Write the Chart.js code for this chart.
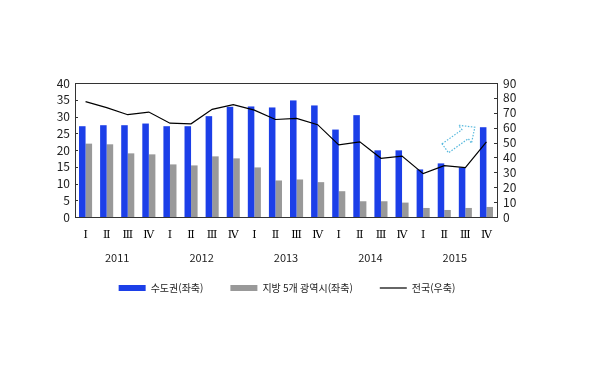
<!DOCTYPE html>
<html lang="ko">
<head>
<meta charset="UTF-8">
<title>수도권 · 지방 5개 광역시 · 전국</title>
<script src="https://cdn.jsdelivr.net/npm/chart.js"></script>
<style>
  html, body { margin: 0; padding: 0; background: #fff; }
  #wrap { width: 605px; height: 376px; }
</style>
</head>
<body>
<div id="wrap"><canvas id="chart"></canvas></div>
<script>
// 분기 / 연도 라벨
const quarterNames = ['Ⅰ', 'Ⅱ', 'Ⅲ', 'Ⅳ'];
const years = ['2011', '2012', '2013', '2014', '2015'];

// 수도권(좌축)
const metroValues = [27.1, 27.4, 27.4, 27.9, 27.1, 27.1, 30.1, 32.9, 33.0, 32.7,
                     34.8, 33.3, 26.1, 30.4, 19.9, 19.9, 14.2, 16.0, 14.8, 26.8];
// 지방 5개 광역시(좌축)
const localValues = [21.9, 21.7, 19.0, 18.7, 15.7, 15.4, 18.1, 17.5, 14.8, 10.9,
                     11.2, 10.4, 7.7, 4.7, 4.7, 4.3, 2.7, 2.1, 2.7, 3.0];
// 전국(우축)
const nationValues = [77.5, 73.5, 68.7, 70.5, 63.0, 62.6, 72.3, 75.4, 71.8, 65.5,
                      66.2, 62.0, 48.4, 50.5, 39.4, 40.9, 29.1, 34.5, 33.1, 50.5];

const leftMax = 40, leftStep = 5;
const rightMax = 90, rightStep = 10;

const labels = [];
years.forEach(() => quarterNames.forEach(q => labels.push(q)));

const baseFont = "'Noto Sans CJK KR', 'Noto Sans', sans-serif";
const axisColor = '#333';

// 플롯 테두리 + 안쪽 눈금
const framePlugin = {
  id: 'frame',
  afterLayout(chart) {
    // 범례를 연도 라벨 바로 아래로 올림
    chart.legend.top -= 11;
    chart.legend.bottom -= 11;
  },
  afterDraw(chart) {
    const { ctx, chartArea: a, scales } = chart;
    ctx.save();
    ctx.strokeStyle = axisColor;
    ctx.lineWidth = 1;
    ctx.strokeRect(Math.round(a.left) + 0.5, Math.round(a.top) + 0.5,
                   Math.round(a.right - a.left), Math.round(a.bottom - a.top));
    ctx.beginPath();
    scales.y.ticks.forEach(t => {
      const py = Math.round(scales.y.getPixelForValue(t.value)) + 0.5;
      ctx.moveTo(a.left, py); ctx.lineTo(a.left + 3, py);
    });
    scales.y1.ticks.forEach(t => {
      const py = Math.round(scales.y1.getPixelForValue(t.value)) + 0.5;
      ctx.moveTo(a.right, py); ctx.lineTo(a.right - 3, py);
    });
    ctx.stroke();
    ctx.restore();
  }
};

// 점선 화살표 (상승 표시)
const arrowPlugin = {
  id: 'arrow',
  afterDatasetsDraw(chart) {
    const { ctx, scales } = chart;
    const x0 = scales.x.getPixelForValue(17.05), y0 = scales.y.getPixelForValue(20.5);
    const x1 = scales.x.getPixelForValue(18.45), y1 = scales.y.getPixelForValue(26.8);
    const len = Math.hypot(x1 - x0, y1 - y0);
    const ang = Math.atan2(y1 - y0, x1 - x0);
    const sw = 5.5, hw = 11, hl = 12;
    ctx.save();
    ctx.translate(x0, y0);
    ctx.rotate(ang);
    ctx.beginPath();
    ctx.moveTo(0, -sw);
    ctx.lineTo(len - hl, -sw);
    ctx.lineTo(len - hl, -hw);
    ctx.lineTo(len, 0);
    ctx.lineTo(len - hl, hw);
    ctx.lineTo(len - hl, sw);
    ctx.lineTo(0, sw);
    ctx.closePath();
    ctx.setLineDash([1.5, 1.5]);
    ctx.strokeStyle = '#55b8dd';
    ctx.lineWidth = 1.2;
    ctx.stroke();
    ctx.restore();
  }
};

new Chart(document.getElementById('chart'), {
  type: 'bar',
  data: {
    labels: labels,
    datasets: [
      {
        label: '수도권(좌축)',
        data: metroValues,
        backgroundColor: '#1c3fe8',
        borderWidth: 0,
        yAxisID: 'y',
        order: 1,
        pointStyle: 'rect'
      },
      {
        label: '지방 5개 광역시(좌축)',
        data: localValues,
        backgroundColor: '#999999',
        borderWidth: 0,
        yAxisID: 'y',
        order: 1,
        pointStyle: 'rect'
      },
      {
        type: 'line',
        label: '전국(우축)',
        data: nationValues,
        borderColor: '#000',
        backgroundColor: '#000',
        borderWidth: 1.2,
        pointRadius: 0,
        tension: 0,
        yAxisID: 'y1',
        order: 0,
        pointStyle: 'line'
      }
    ]
  },
  options: {
    responsive: true,
    maintainAspectRatio: false,
    animation: false,
    datasets: {
      bar: { categoryPercentage: 0.62, barPercentage: 1.0 }
    },
    layout: { padding: { top: 83, left: 0, right: 31, bottom: 62 } },
    plugins: {
      tooltip: { enabled: false },
      legend: {
        position: 'bottom',
        labels: {
          usePointStyle: true,
          pointStyleWidth: 27,
          boxHeight: 6,
          padding: 27,
          color: '#222',
          font: { family: baseFont, size: 10 },
          sort: (a, b) => a.datasetIndex - b.datasetIndex
        }
      }
    },
    scales: {
      x: {
        type: 'category',
        position: 'bottom',
        grid: { display: false, drawTicks: false },
        border: { display: false },
        ticks: {
          autoSkip: false, maxRotation: 0, padding: 11.5,
          color: '#000',
          font: { family: "'DejaVu Serif', serif", size: 11 }
        },
        afterFit: s => { s.height = 30; }
      },
      x2: {
        type: 'category',
        labels: years,
        position: 'bottom',
        weight: 1,
        offset: true,
        grid: { display: false, drawTicks: false },
        border: { display: false },
        ticks: {
          maxRotation: 0, padding: 4,
          color: '#222',
          font: { family: baseFont, size: 11 }
        },
        afterFit: s => { s.height = 20; }
      },
      y: {
        position: 'left',
        min: 0, max: leftMax,
        grid: { display: false, drawTicks: false },
        border: { display: false },
        ticks: {
          stepSize: leftStep, padding: 5, autoSkip: false,
          color: '#222',
          font: { family: baseFont, size: 12 }
        },
        afterFit: s => { s.width = 75; }
      },
      y1: {
        position: 'right',
        min: 0, max: rightMax,
        grid: { display: false, drawTicks: false },
        border: { display: false },
        ticks: {
          stepSize: rightStep, padding: 6, autoSkip: false,
          color: '#222',
          font: { family: baseFont, size: 12 }
        },
        afterFit: s => { s.width = 77; }
      }
    }
  },
  plugins: [framePlugin, arrowPlugin]
});
</script>
</body>
</html>
